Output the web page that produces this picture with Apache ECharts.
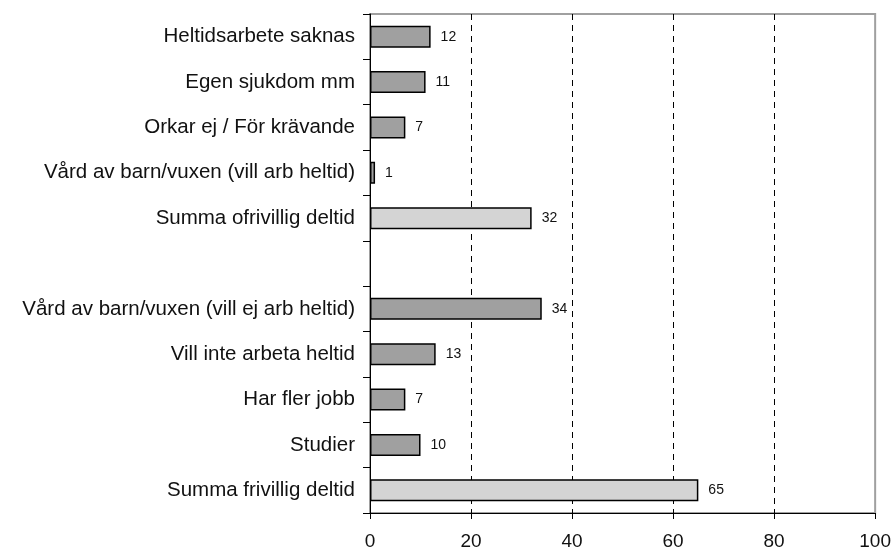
<!DOCTYPE html>
<html>
<head>
<meta charset="utf-8">
<script src="https://cdn.jsdelivr.net/npm/echarts@6/dist/echarts.min.js"></script>
<style>
  html, body { margin: 0; padding: 0; background: #fff; }
  #chart { width: 894px; height: 552px; }
</style>
</head>
<body>
<div id="chart"></div>
<script>
// kategorier, uppifrån och ned (tom rad mellan grupperna)
var categories = [
	'Heltidsarbete saknas',
	'Egen sjukdom mm',
	'Orkar ej / För krävande',
	'Vård av barn/vuxen (vill arb heltid)',
	'Summa ofrivillig deltid',
	'',
	'Vård av barn/vuxen (vill ej arb heltid)',
	'Vill inte arbeta heltid',
	'Har fler jobb',
	'Studier',
	'Summa frivillig deltid'
];
var values = [12, 11, 7, 1, 32, null, 34, 13, 7, 10, 65];
var isSum = [false, false, false, false, true, false, false, false, false, false, true];
var xTicks = [0, 20, 40, 60, 80, 100];

var chart = echarts.init(document.getElementById('chart'));

var barData = [];
for (var i = 0; i < values.length; i++) {
	if (values[i] === null) {
		barData.push('-');
	} else {
		barData.push({
			value: values[i],
			itemStyle: { color: isSum[i] ? '#d4d4d4' : '#a0a0a0' }
		});
	}
}

var option = {
	animation: false,
	backgroundColor: '#fff',
	textStyle: { fontFamily: 'Liberation Sans, Arial, sans-serif' },
	grid: {
		left: 370, right: 18, top: 14, bottom: 39,
		show: true, borderColor: '#a0a0a0', borderWidth: 2
	},
	xAxis: {
		type: 'value',
		min: xTicks[0],
		max: xTicks[xTicks.length - 1],
		interval: 20,
		axisLine: { show: true, lineStyle: { color: '#000', width: 1 } },
		axisTick: { show: true, length: 6, lineStyle: { color: '#000' } },
		axisLabel: { fontSize: 19, color: '#111', margin: 19 },
		splitLine: {
			show: true, showMinLine: false, showMaxLine: false,
			lineStyle: { color: '#000', type: [6, 5], width: 1 }
		}
	},
	yAxis: {
		type: 'category',
		inverse: true,
		data: categories,
		axisLine: { show: true, lineStyle: { color: '#000', width: 1 } },
		axisTick: { show: true, length: 7, alignWithLabel: false, lineStyle: { color: '#000' } },
		axisLabel: { fontSize: 20.5, color: '#111', margin: 15 }
	},
	series: [{
		type: 'bar',
		data: barData,
		barWidth: 22,
		itemStyle: { borderColor: '#000', borderWidth: 1.5 },
		label: {
			show: true, position: 'right', distance: 10,
			fontSize: 14, color: '#111'
		}
	}]
};

chart.setOption(option);
</script>
</body>
</html>
